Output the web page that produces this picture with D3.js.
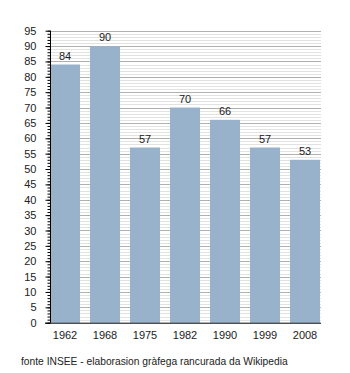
<!DOCTYPE html>
<html>
<head>
<meta charset="utf-8">
<script src="https://cdn.jsdelivr.net/npm/d3@7"></script>
<style>
  html, body { margin: 0; padding: 0; background: #fff; }
  svg { display: block; font-family: "Liberation Sans", Arial, sans-serif; }
</style>
</head>
<body>
<svg id="chart" width="350" height="373"></svg>
<script>
// Population by census year
const years = ["1962", "1968", "1975", "1982", "1990", "1999", "2008"];
const population = [84, 90, 57, 70, 66, 57, 53];
const yTickValues = [0, 5, 10, 15, 20, 25, 30, 35, 40, 45, 50, 55, 60, 65, 70, 75, 80, 85, 90, 95];
const sourceNote = "fonte INSEE - elaborasion gràfega rancurada da Wikipedia";

const svg = d3.select("#chart");
const plotLeft = 50, plotRight = 321, plotTop = 30.7, plotBottom = 322.7;

const x = d3.scaleBand().domain(years).range([plotLeft, 320]).paddingInner(0.25).paddingOuter(0);
const y = d3.scaleLinear().domain([0, 95]).range([plotBottom, plotTop]);

// minor grid (every unit) and major grid (every 5)
const minor = d3.range(1, 96).filter(v => v % 5 !== 0);
svg.append("g").selectAll("line").data(minor).join("line")
  .attr("x1", plotLeft).attr("x2", plotRight)
  .attr("y1", d => Math.round(y(d)) + 0.5).attr("y2", d => Math.round(y(d)) + 0.5)
  .attr("stroke", "#e2e2e2").attr("stroke-width", 1);
svg.append("g").selectAll("line").data(yTickValues.filter(v => v > 0)).join("line")
  .attr("x1", plotLeft).attr("x2", plotRight)
  .attr("y1", d => Math.round(y(d)) + 0.5).attr("y2", d => Math.round(y(d)) + 0.5)
  .attr("stroke", "#b0b0b0").attr("stroke-width", 1);

// bars
svg.append("g").selectAll("rect").data(population).join("rect")
  .attr("x", (d, i) => x(years[i]))
  .attr("width", x.bandwidth())
  .attr("y", d => y(d))
  .attr("height", d => y(0) - y(d))
  .attr("fill", "#98b2cc");

// value labels
svg.append("g").selectAll("text").data(population).join("text")
  .attr("x", (d, i) => x(years[i]) + x.bandwidth() / 2)
  .attr("y", d => y(d) - 5)
  .attr("text-anchor", "middle")
  .attr("font-size", 11)
  .attr("fill", "#222")
  .text(d => d);

// y axis with minor ticks
const yAxisMinor = d3.axisLeft(y).tickValues(d3.range(0, 96)).tickSize(3).tickFormat("");
svg.append("g").attr("transform", `translate(${plotLeft + 0.5},0)`).call(yAxisMinor)
  .call(g => g.select(".domain").remove())
  .call(g => g.selectAll(".tick line").attr("stroke", "#000"));
const yAxis = d3.axisLeft(y).tickValues(yTickValues).tickSize(5).tickPadding(9);
svg.append("g").attr("transform", `translate(${plotLeft + 0.5},0)`).call(yAxis)
  .call(g => g.select(".domain").attr("d", `M0,${plotTop}V${plotBottom}`).attr("stroke", "#000"))
  .call(g => g.selectAll(".tick line").attr("stroke", "#000"))
  .call(g => g.selectAll(".tick text").attr("font-size", 11).attr("fill", "#222")
    .attr("font-family", "Liberation Sans, Arial, sans-serif"));

// x axis
const xAxis = d3.axisBottom(x).tickSize(0).tickPadding(8);
svg.append("g").attr("transform", `translate(0,${plotBottom + 0.5})`).call(xAxis)
  .call(g => g.select(".domain").attr("d", `M${plotLeft - 5},0H${plotRight}`).attr("stroke", "#000"))
  .call(g => g.selectAll(".tick text").attr("font-size", 11).attr("fill", "#222")
    .attr("font-family", "Liberation Sans, Arial, sans-serif"));

// source note
svg.append("text")
  .attr("x", 21).attr("y", 365)
  .attr("font-size", 10.25)
  .attr("fill", "#222")
  .text(sourceNote);
</script>
</body>
</html>
